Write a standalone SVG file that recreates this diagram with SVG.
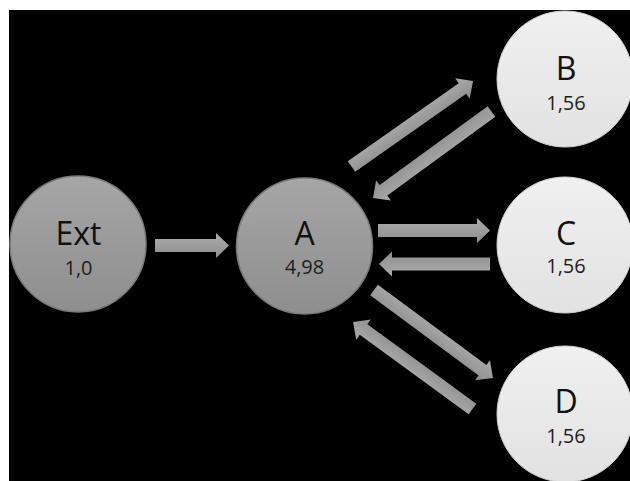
<svg xmlns="http://www.w3.org/2000/svg" width="630" height="481" viewBox="0 0 630 481">
<defs>
<linearGradient id="gDark" x1="0" y1="0" x2="0" y2="1">
<stop offset="0" stop-color="#a6a6a6"/>
<stop offset="1" stop-color="#8e8e8e"/>
</linearGradient>
<linearGradient id="gLight" x1="0" y1="0" x2="0" y2="1">
<stop offset="0" stop-color="#f0f0f0"/>
<stop offset="1" stop-color="#e2e2e2"/>
</linearGradient>
<linearGradient id="gArrow" x1="0" y1="0" x2="0" y2="1">
<stop offset="0" stop-color="#acacac"/>
<stop offset="1" stop-color="#8e8e8e"/>
</linearGradient>
</defs>
<style>
.dark{fill:url(#gDark);stroke:#7a7a7a;stroke-width:1.5}
.light{fill:url(#gLight);stroke:#cfcfcf;stroke-width:1}
.lbl{font-family:"Open Sans","Liberation Sans",sans-serif;font-size:32px;fill:#111111;text-anchor:middle}
.num{font-family:"Open Sans","Liberation Sans",sans-serif;font-size:20px;fill:#1e1e1e;text-anchor:middle}
.arr{fill:url(#gArrow)}
</style>
<rect x="0" y="0" width="630" height="481" fill="#ffffff"/>
<rect x="9" y="10" width="621" height="471" fill="#000000"/>
<g id="connectors">
<path class="arr" transform="translate(155,245.5)" d="M0,-6.5 H61 V-12.5 L74,0 L61,12.5 V6.5 H0 Z"/>
<path class="arr" transform="translate(378,230.5)" d="M0,-6.5 H99 V-12.5 L112,0 L99,12.5 V6.5 H0 Z"/>
<path class="arr" transform="translate(490,264) rotate(180)" d="M0,-6.5 H98 V-12.5 L111,0 L98,12.5 V6.5 H0 Z"/>
<path class="arr" transform="translate(351.5,166.5) rotate(-35.1)" d="M0,-6.5 H135.6 V-12.5 L148.6,0 L135.6,12.5 V6.5 H0 Z"/>
<path class="arr" transform="translate(491.5,111.5) rotate(143.9)" d="M0,-6.5 H133.7 V-12.5 L146.7,0 L133.7,12.5 V6.5 H0 Z"/>
<path class="arr" transform="translate(374,290) rotate(36.5)" d="M0,-6.5 H135 V-12.5 L148,0 L135,12.5 V6.5 H0 Z"/>
<path class="arr" transform="translate(472.5,409) rotate(-143.9)" d="M0,-6.5 H134.8 V-12.5 L147.8,0 L134.8,12.5 V6.5 H0 Z"/>
</g>
<g id="Ext">
<circle class="dark" cx="78" cy="244" r="68"/>
<text class="lbl" x="78.5" y="245">Ext</text>
<text class="num" x="78.5" y="275">1,0</text>
</g>
<g id="A">
<circle class="dark" cx="304.5" cy="246" r="68"/>
<text class="lbl" x="304.5" y="245">A</text>
<text class="num" x="304.5" y="274">4,98</text>
</g>
<g id="B">
<circle class="light" cx="565" cy="79" r="68"/>
<text class="lbl" x="566" y="80">B</text>
<text class="num" x="566" y="110">1,56</text>
</g>
<g id="C">
<circle class="light" cx="565" cy="245" r="68"/>
<text class="lbl" x="566" y="245">C</text>
<text class="num" x="566" y="273">1,56</text>
</g>
<g id="D">
<circle class="light" cx="565" cy="414" r="68"/>
<text class="lbl" x="566" y="413">D</text>
<text class="num" x="566" y="443">1,56</text>
</g>
</svg>
